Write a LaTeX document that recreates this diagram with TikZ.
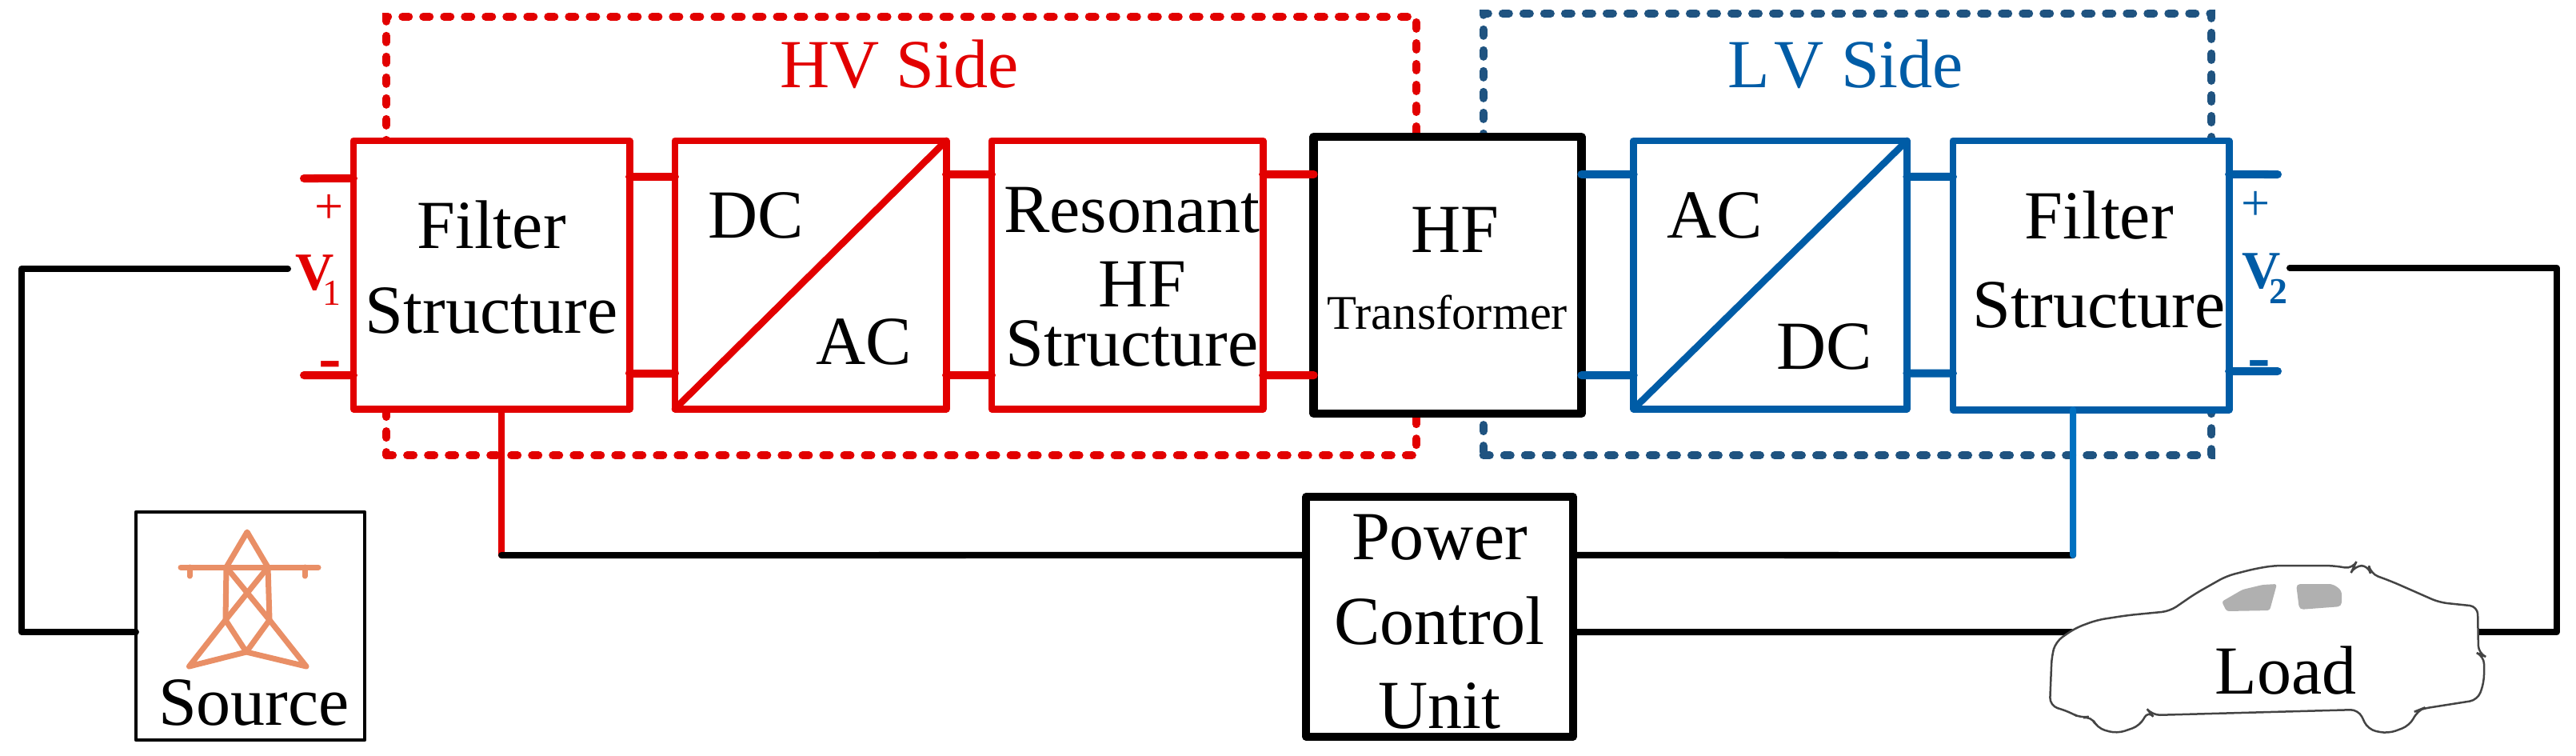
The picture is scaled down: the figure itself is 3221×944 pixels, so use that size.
\documentclass[tikz,border=0pt]{standalone}
\usepackage{fontspec}
\setmainfont{Liberation Serif}
\definecolor{hvred}{HTML}{E20000}
\definecolor{lvblue}{HTML}{005CA6}
\definecolor{lvdash}{HTML}{1F5380}
\definecolor{fbblue}{HTML}{0070C0}
\definecolor{towercol}{HTML}{E98F66}
\definecolor{carline}{HTML}{444444}
\definecolor{glass}{HTML}{B0B0B0}
\tikzset{
  txt/.style={font=\fontsize{24.47}{29.88}\selectfont, inner sep=0pt, outer sep=0pt},
  % box: text height puts the last baseline at a chosen distance below the centre
  box/.style={draw, fill=white, rectangle, txt, align=center, line width=.088cm, line join=round},
  last/.style={text height=#1, text depth=0pt},
  frame/.style={draw, rectangle, inner sep=0pt, outer sep=0pt, line width=.1cm, line cap=round, dash pattern=on .08cm off .18cm},
  stub/.style={line width=.1cm, line cap=round},
  wire/.style={line width=.08cm, line cap=round, line join=round, black},
  sign/.style={txt, anchor=center},
}
\begin{document}
\begin{tikzpicture}[x=.01cm, y=-.01cm]
  \useasboundingbox (0,0) rectangle (3221,944);

  % dashed side frames
  \node[frame, hvred, minimum width=12.87cm, minimum height=5.48cm] (hvf) at (1127,295) {};
  \node[frame, lvdash, minimum width=9.10cm, minimum height=5.52cm] (lvf) at (2310,293) {};
  \node[txt, hvred, anchor=base] (hvt) at (1124.5,109) {HV Side};
  \node[txt, lvblue, anchor=base] (lvt) at (2308,109) {L\kern.05cm V Side};

  % free ends and corners of the wires
  \coordinate (vone) at (360,336);
  \coordinate (cl) at (27,336);
  \coordinate (vtwo) at (2863,335);
  \coordinate (cr) at (3197,335);
  \coordinate (carr) at (3099,790);
  \coordinate (carl) at (2590,790);
  \coordinate (fbl) at (627,694);
  \coordinate (fbr) at (2592,694);
  \coordinate (tl1) at (380,223);
  \coordinate (tl2) at (380,469);
  \coordinate (tr1) at (2848,218);
  \coordinate (tr2) at (2848,464);

  % HV side blocks
  \node[box, draw=hvred, minimum width=3.45cm, minimum height=3.35cm, last=1.45cm] (f1) at (614.5,343.5) {Filter\\Structure};
  \node[box, draw=hvred, minimum width=3.39cm, minimum height=3.35cm] (dc1) at (1013.5,343.5) {};
  \node[box, draw=hvred, minimum width=3.39cm, minimum height=3.35cm, last=2.27cm] (res) at (1409.5,343.5)
    {\hspace*{.12cm}Resonant\\[-.125cm]\hspace*{.37cm}HF\\[-.315cm]\hspace*{.12cm}Structure};
  % transformer
  \node[box, line width=.105cm, minimum width=3.345cm, minimum height=3.46cm, last=1.34cm] (tf) at (1810,344)
    {\hspace*{.18cm}HF\\[-.1cm]{\fontsize{17.2}{20}\selectfont Transformer}};
  % LV side blocks
  \node[box, draw=lvblue, minimum width=3.415cm, minimum height=3.35cm] (dc2) at (2213.5,343.5) {};
  \node[box, draw=lvblue, minimum width=3.45cm, minimum height=3.36cm, last=1.30cm] (f2) at (2614.5,344)
    {\hspace*{.2cm}Filter\\[.05cm]\hspace*{.2cm}Structure};

  % converter diagonals and labels
  \draw[hvred, line width=.085cm, line cap=round] (dc1.south west) -- (dc1.north east);
  \draw[lvblue, line width=.085cm, line cap=round] (dc2.south west) -- (dc2.north east);
  \node[txt, anchor=base] (dc1a) at (945.5,297) {DC};
  \node[txt, anchor=base] (dc1b) at (1080.5,455) {AC};
  \node[txt, anchor=base] (dc2a) at (2144,297) {AC};
  \node[txt, anchor=base] (dc2b) at (2281.5,461) {DC};

  % stubs between the blocks
  \draw[stub, hvred] (tl1) -- ([yshift=1.205cm]f1.west);
  \draw[stub, hvred] (tl2) -- ([yshift=-1.255cm]f1.west);
  \draw[stub, hvred] ([yshift=1.225cm]f1.east) -- ([yshift=1.225cm]dc1.west);
  \draw[stub, hvred] ([yshift=-1.23cm]f1.east) -- ([yshift=-1.23cm]dc1.west);
  \draw[stub, hvred] ([yshift=1.255cm]dc1.east) -- ([yshift=1.255cm]res.west);
  \draw[stub, hvred] ([yshift=-1.255cm]dc1.east) -- ([yshift=-1.255cm]res.west);
  \draw[stub, hvred] ([yshift=1.255cm]res.east) -- ([yshift=1.26cm]tf.west);
  \draw[stub, hvred] ([yshift=-1.255cm]res.east) -- ([yshift=-1.25cm]tf.west);
  \draw[stub, lvblue] ([yshift=1.26cm]tf.east) -- ([yshift=1.255cm]dc2.west);
  \draw[stub, lvblue] ([yshift=-1.25cm]tf.east) -- ([yshift=-1.255cm]dc2.west);
  \draw[stub, lvblue] ([yshift=1.225cm]dc2.east) -- ([yshift=1.23cm]f2.west);
  \draw[stub, lvblue] ([yshift=-1.23cm]dc2.east) -- ([yshift=-1.225cm]f2.west);
  \draw[stub, lvblue] ([yshift=1.26cm]f2.east) -- (tr1);
  \draw[stub, lvblue] ([yshift=-1.2cm]f2.east) -- (tr2);

  % port labels
  \node[sign, hvred] (p1) at (412,261) {\fontsize{18.2}{20}\selectfont +};
  \node[sign, hvred] (m1) at (413,464) {\bfseries -};
  \node[txt, hvred, anchor=base west] (v1) at (369,362)
    {\fontsize{19}{20}\selectfont\bfseries V\kern-.14cm\raisebox{-.19cm}{\fontsize{13}{14}\selectfont\mdseries 1}};
  \node[sign, lvblue] (p2) at (2821,257) {\fontsize{18.2}{20}\selectfont +};
  \node[sign, lvblue] (m2) at (2825,463) {\bfseries -};
  \node[txt, lvblue, anchor=base west] (v2) at (2803,360)
    {\fontsize{19}{20}\selectfont\bfseries V\kern-.14cm\raisebox{-.19cm}{\fontsize{13}{14}\selectfont 2}};

  % power control unit
  \node[box, line width=.095cm, minimum width=3.335cm, minimum height=3.0cm, last=2.78cm] (pcu) at (1800,771)
    {Power\\Control\\Unit};
  \draw[line width=.08cm, hvred, line cap=round] ([xshift=.125cm]f1.south) -- (fbl);
  \draw[wire] (fbl) -- ([yshift=.77cm]pcu.west);
  \draw[wire] ([yshift=.77cm]pcu.east) -- (fbr);
  \draw[line width=.08cm, fbblue, line cap=round] (fbr) -- ([xshift=-.225cm]f2.south);

  % source
  \node[box, line width=.045cm, minimum width=2.86cm, minimum height=2.85cm, last=2.47cm] (src) at (313,782.5) {\hspace*{.09cm}Source};
  \draw[wire] ([yshift=-.075cm]src.west) -| (cl) -- (vone);
  \begin{scope}[towercol, line width=.07cm, line cap=round, line join=round]
    \draw (283,709) -- (309,665) -- (335,709);
    \draw (226,709) -- (398,709);
    \draw (237,709) -- (237,720) (381,709) -- (381,720);
    \draw (283,709) -- (282,775) (335,709) -- (337,775);
    \draw (283,709) -- (337,775) (335,709) -- (282,775);
    \draw (282,775) -- (236.5,833) -- (308,815) -- (383,833) -- (337,775);
    \draw (282,775) -- (308,815) -- (337,775);
  \end{scope}

  % load car
  \draw[wire] ([yshift=-.19cm]pcu.east) -- (carl);
  \draw[wire] (vtwo) -- (cr) |- (carr);
  \draw[carline, fill=white, line width=.025cm, rounded corners=.1cm]
    (2563,882) -- (2565.5,820) -- (2570.5,802) -- (2595,785) -- (2622,775) -- (2661,769)
    -- (2713,764) -- (2745,742) -- (2784,720) -- (2819,711) -- (2843,707) -- (2917,707)
    -- (2942,711) -- (2944,707) -- (2962,707) -- (2964,717) -- (2991,727) -- (3050,753)
    -- (3098,758) -- (3099,817) -- (3106,820) -- (3106,853) -- (3098,875) -- (3028,886)
    -- (3023,888) -- (3013,907) -- (2986,917) -- (2961,912) -- (2949,887) -- (2691,894)
    -- (2686,888) -- (2676,907) -- (2647,917) -- (2622,910) -- (2615,895) -- (2602,898)
    -- (2588,890) -- cycle;
  \fill[glass, rounded corners=.03cm] (2778,752) -- (2804,737) -- (2829,731) -- (2847,730)
    -- (2838,763) -- (2784,764) -- cycle;
  \fill[glass, rounded corners=.05cm] (2871,730) -- (2917,730) -- (2928,738) -- (2928,758)
    -- (2875,762) -- cycle;
  \node[txt, anchor=base] (load) at (2858,867) {Load};
\end{tikzpicture}
\end{document}
